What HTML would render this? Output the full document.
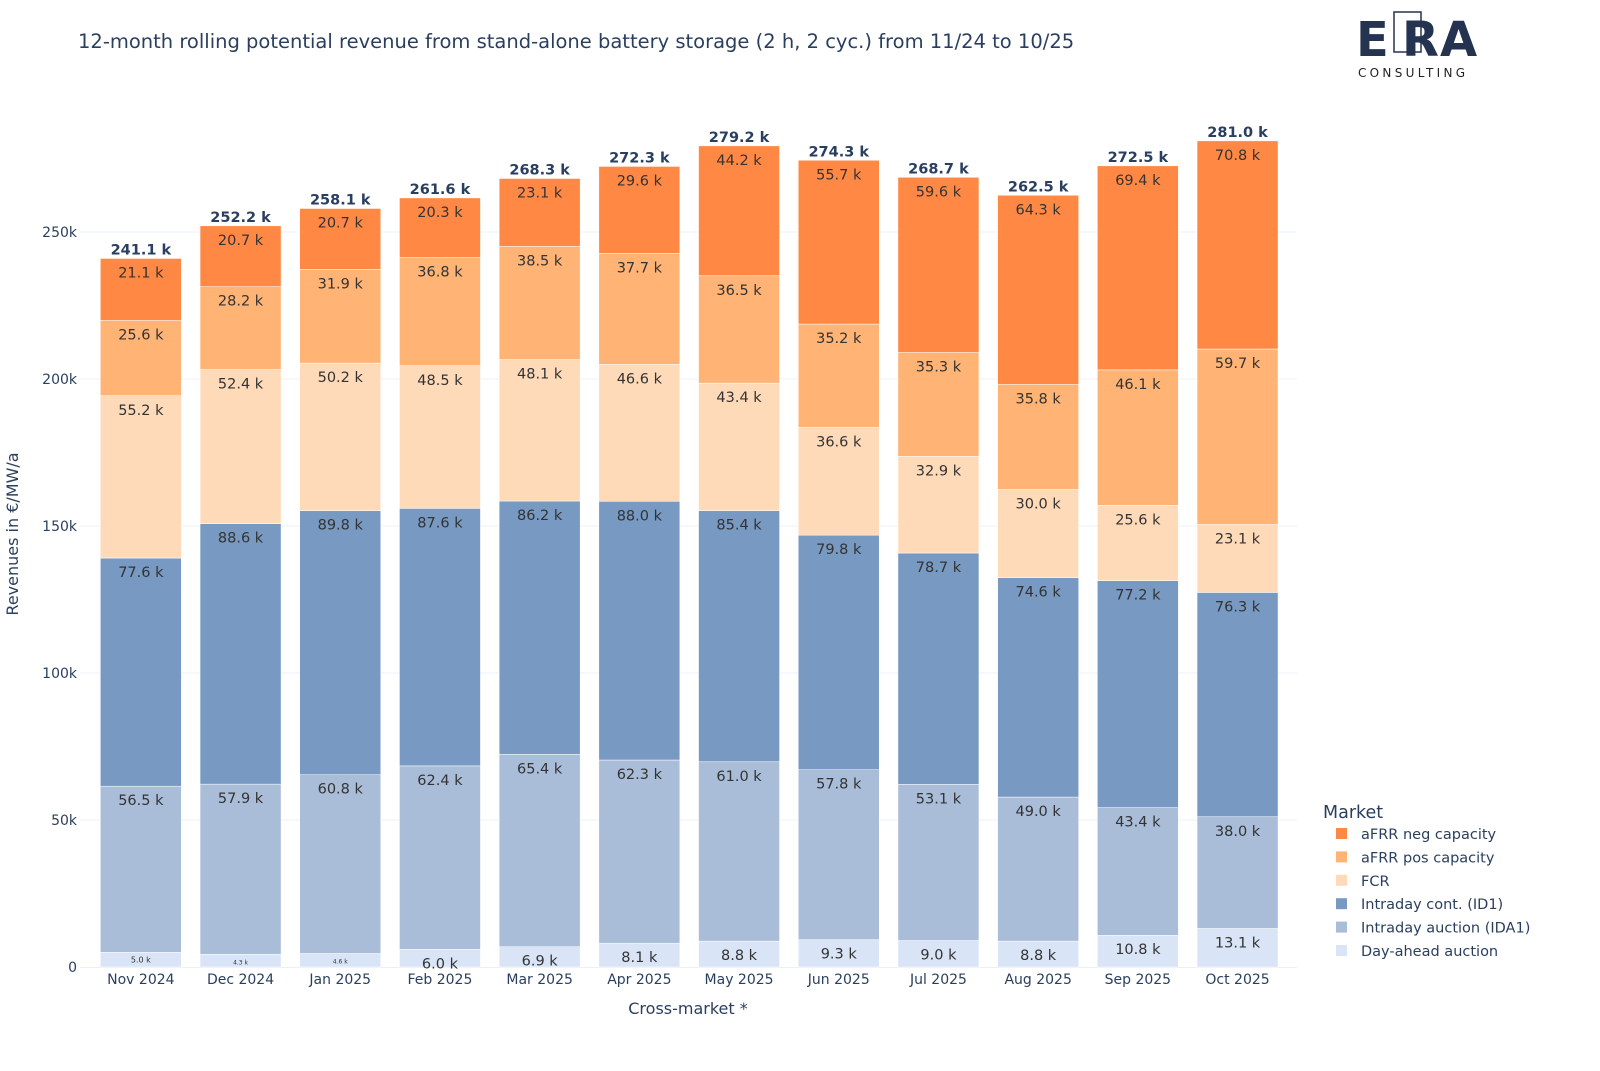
<!DOCTYPE html>
<html><head><meta charset="utf-8">
<style>
html,body{margin:0;padding:0;background:#fff;}
body{width:1600px;height:1067px;overflow:hidden;font-family:"DejaVu Sans","Liberation Sans",sans-serif;}
svg text{font-family:"DejaVu Sans","Liberation Sans",sans-serif;}
</style></head>
<body>
<svg id="chart" width="1600" height="1067" xmlns="http://www.w3.org/2000/svg">
<text x="78" y="48" font-size="19.5" fill="#2a3f5f">12-month rolling potential revenue from stand-alone battery storage (2 h, 2 cyc.) from 11/24 to 10/25</text>
<g>
<rect x="1394" y="12" width="27" height="40" fill="none" stroke="#243450" stroke-width="1.5"/>
<text x="1356" y="56" font-size="48" font-weight="bold" fill="#243450" font-family="Liberation Sans,sans-serif">E</text>
<text x="1402" y="56" font-size="48" font-weight="bold" fill="#243450" font-family="Liberation Sans,sans-serif">R</text>
<text x="1440" y="56" font-size="48" font-weight="bold" fill="#243450" font-family="Liberation Sans,sans-serif">A</text>
<text x="1358" y="77" font-size="12" letter-spacing="3.3" fill="#222" font-family="Liberation Sans,sans-serif">CONSULTING</text>
</g>
<g id="grid"></g>
<g id="bars"></g>
<g id="axes"></g>
<g id="legend"></g>
</svg>
<script>
const categories=["Nov 2024","Dec 2024","Jan 2025","Feb 2025","Mar 2025","Apr 2025","May 2025","Jun 2025","Jul 2025","Aug 2025","Sep 2025","Oct 2025"];
const dayAhead=[5.0,4.3,4.6,6.0,6.9,8.1,8.8,9.3,9.0,8.8,10.8,13.1];
const intradayAuction=[56.5,57.9,60.8,62.4,65.4,62.3,61.0,57.8,53.1,49.0,43.4,38.0];
const intradayCont=[77.6,88.6,89.8,87.6,86.2,88.0,85.4,79.8,78.7,74.6,77.2,76.3];
const fcr=[55.2,52.4,50.2,48.5,48.1,46.6,43.4,36.6,32.9,30.0,25.6,23.1];
const afrrPos=[25.6,28.2,31.9,36.8,38.5,37.7,36.5,35.2,35.3,35.8,46.1,59.7];
const afrrNeg=[21.1,20.7,20.7,20.3,23.1,29.6,44.2,55.7,59.6,64.3,69.4,70.8];
const totals=[241.1,252.2,258.1,261.6,268.3,272.3,279.2,274.3,268.7,262.5,272.5,281.0];
const seriesNames=["Day-ahead auction","Intraday auction (IDA1)","Intraday cont. (ID1)","FCR","aFRR pos capacity","aFRR neg capacity"];
const yTicks=[0,50,100,150,200,250];
const yTickLabels=["0","50k","100k","150k","200k","250k"];

const series=[dayAhead,intradayAuction,intradayCont,fcr,afrrPos,afrrNeg];
const colors=["#D9E5F6","#A9BDD9","#7799C2","#FFDAB9","#FFB375","#FF8944"];
const NS="http://www.w3.org/2000/svg";
const x0=91,step=99.7,bw=81;
const yScale=v=>967-v*(735/250);
const xCenter=i=>x0+step*i+step/2;
function mk(tag,attrs,parent){const e=document.createElementNS(NS,tag);for(const k in attrs)e.setAttribute(k,attrs[k]);parent.appendChild(e);return e;}
const grid=document.getElementById('grid'),bars=document.getElementById('bars'),axes=document.getElementById('axes'),legend=document.getElementById('legend');
yTicks.forEach((t,i)=>{
  if(t>0){const l=mk('line',{x1:80,x2:1297,y1:yScale(t),y2:yScale(t),stroke:'#EBF0F8','stroke-width':1},grid);
  
  }
  const tx=mk('text',{x:77,y:yScale(t)+5,'text-anchor':'end','font-size':14,fill:'#2a3f5f'},axes);
  tx.textContent=yTickLabels[i];
  
  
});
mk('line',{x1:80,x2:1297,y1:967.5,y2:967.5,stroke:'#EBF0F8','stroke-width':1},grid);
categories.forEach((c,i)=>{
  let cum=0;const cx=xCenter(i);
  series.forEach((s,k)=>{
    const v=s[i];const yt=yScale(cum+v),yb=yScale(cum);cum+=v;
    const r=mk('rect',{x:cx-bw/2,y:yt,width:bw,height:yb-yt,fill:colors[k],stroke:'#fff','stroke-width':0.5},bars);
    
    
    const h=yb-yt;const small=h<16;
    const t=mk('text',{x:cx,y:small?yt+10:yt+19,'text-anchor':'middle','font-size':small?(v<4.8?6:8):14.5,fill:'#333'},bars);
    t.textContent=v.toFixed(1)+" k";
    
    
  });
  const tot=mk('text',{x:cx,y:yScale(cum)-4,'text-anchor':'middle','font-size':14.5,'font-weight':'bold',fill:'#2a3f5f'},bars);
  tot.textContent=totals[i].toFixed(1)+" k";
  
  
  const xl=mk('text',{x:cx,y:984,'text-anchor':'middle','font-size':14,fill:'#2a3f5f'},axes);
  xl.textContent=c;
  
  
});
const xt=mk('text',{x:688,y:1014,'text-anchor':'middle','font-size':16,fill:'#2a3f5f'},axes);
xt.textContent="Cross-market *";


const yt=mk('text',{x:18,y:534,'text-anchor':'middle','font-size':16,fill:'#2a3f5f',transform:'rotate(-90 18 534)'},axes);
yt.textContent="Revenues in €/MW/a";


const lt=mk('text',{x:1323,y:818,'font-size':17.5,fill:'#2a3f5f'},legend);
lt.textContent="Market";


for(let k=5;k>=0;k--){
  const row=5-k;const y=834+row*23.4;
  const g=mk('g',{},legend);
  
  
  mk('rect',{x:1363-27,y:y-6,width:11,height:11,fill:colors[k]},g);
  const t=mk('text',{x:1361,y:y+5,'font-size':14.5,fill:'#2a3f5f'},g);
  t.textContent=seriesNames[k];
}
</script>
</body></html>
